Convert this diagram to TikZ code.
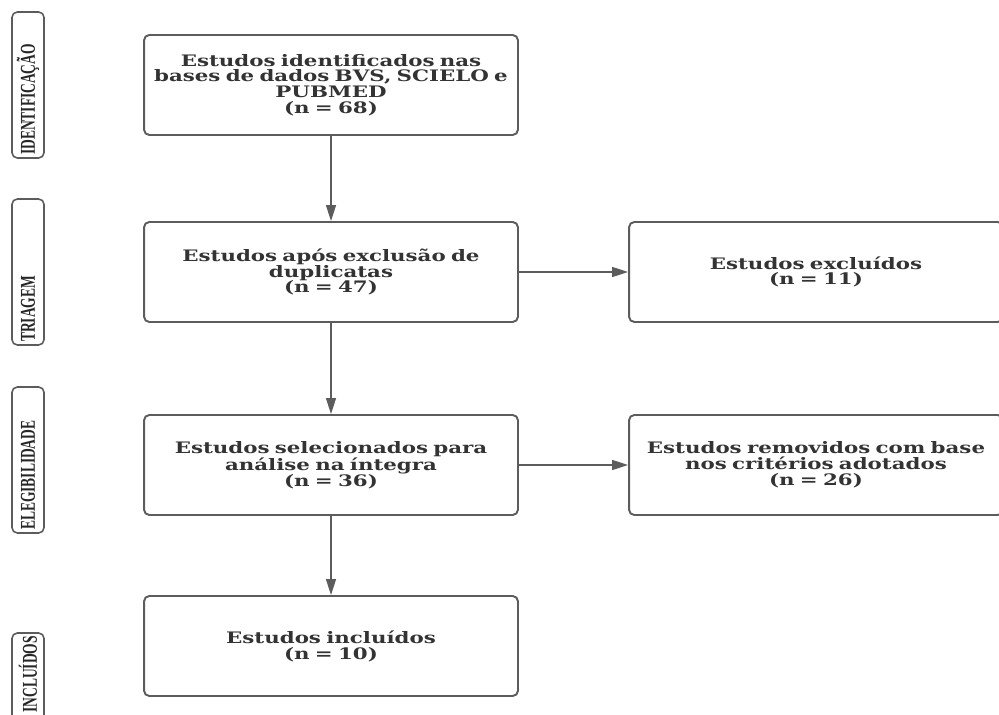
\documentclass[tikz,border=0pt]{standalone}
\usepackage{fontspec}
\setmainfont{DejaVu Serif}
\newfontfamily\boxfont[FakeStretch=1.35]{DejaVu Serif}
\newfontfamily\stagefont[FakeStretch=0.64]{Liberation Serif}
\usetikzlibrary{arrows.meta}
\definecolor{linegray}{HTML}{5C5C5C}
\definecolor{textgray}{HTML}{333333}

\begin{document}
\begin{tikzpicture}[x=0.02cm,y=-0.02cm,
        box/.style={draw=linegray,line width=1.1pt,rounded corners=3pt,text width=7.4cm,inner xsep=0.04cm,
            minimum height=2cm,align=center,text=textgray,font=\boxfont\bfseries\fontsize{9}{9}\selectfont},
        stage/.style={draw=linegray,line width=0.9pt,rounded corners=3pt,rotate=90,text width=2.8cm,align=left,
            minimum height=0.64cm,inner xsep=0.06cm,inner ysep=0pt,text=black!85,
            font=\stagefont\bfseries\fontsize{12}{12}\selectfont},
        link/.style={draw=linegray,line width=0.8pt,-{Triangle[length=0.32cm,width=0.2cm]}}]

    \useasboundingbox (0,0) rectangle (999,715);
    \clip (0,0) rectangle (999,715);

    % stages
    \node[stage] (ident) at (28,85)  {IDENTIFICAÇÃO};
    \node[stage] (triag) at (28,272) {TRIAGEM};
    \node[stage] (elegi) at (28,460) {ELEGIBILIDADE};
    \node[stage,align=right] (inclu) at (28,706) {INCLUÍDOS};

    % flow
    \node[box] (found)    at (331,85)  {Estudos identificados nas\\bases de dados BVS, SCIELO e\\PUBMED\\(n = 68)};
    \node[box] (nodup)    at (331,272) {Estudos após exclusão de\\duplicatas\\(n = 47)};
    \node[box] (selected) at (331,465) {Estudos selecionados para\\análise na íntegra\\(n = 36)};
    \node[box] (included) at (331,646) {Estudos incluídos\\(n = 10)};

    \node[box] (excluded) at (816,272) {Estudos excluídos\\(n = 11)};
    \node[box] (removed)  at (816,465) {Estudos removidos com base\\nos critérios adotados\\(n = 26)};

    \draw[link] (found) -- (nodup);
    \draw[link] (nodup) -- (selected);
    \draw[link] (selected) -- (included);
    \draw[link] (nodup) -- (excluded);
    \draw[link] (selected) -- (removed);
\end{tikzpicture}
\end{document}
